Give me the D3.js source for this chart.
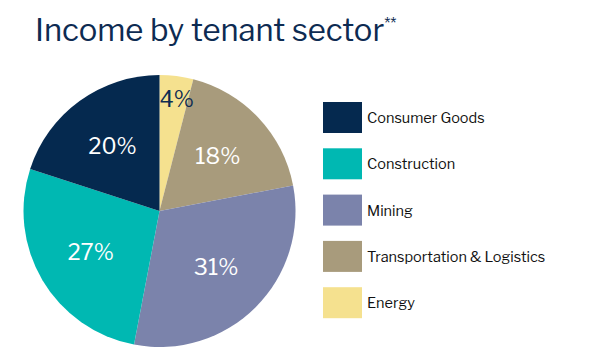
<!DOCTYPE html>
<html>
<head>
<meta charset="utf-8">
<script src="https://cdn.jsdelivr.net/npm/d3@7"></script>
<style>
  body { margin: 0; background: #fff; }
  text { font-family: "Libre Franklin", "Open Sans", Arial, sans-serif; }
</style>
</head>
<body>
<div id="chart"></div>
<script>
// data
var sectors = ["Consumer Goods", "Construction", "Mining", "Transportation & Logistics", "Energy"];
var shares = [20, 27, 31, 18, 4];
var colors = ["#05294f", "#00b8b2", "#7b83ab", "#a89b7c", "#f5e18f"];

// pie is drawn clockwise from 12 o'clock in this order
var pieOrder = ["Energy", "Transportation & Logistics", "Mining", "Construction", "Consumer Goods"];

var width = 591, height = 355;
var cx = 159.5, cy = 211, radius = 136;

var svg = d3.select("#chart").append("svg")
    .attr("width", width)
    .attr("height", height);

// title
var title = svg.append("text")
    .attr("x", 35)
    .attr("y", 41)
    .style("font-size", "31px")
    .style("fill", "#0d2b52");
title.append("tspan").text("Income by tenant sector");
title.append("tspan")
    .attr("dy", -12)
    .style("font-size", "16px")
    .text("**");

var color = d3.scaleOrdinal().domain(sectors).range(colors);

var data = pieOrder.map(function(s) {
  return { sector: s, value: shares[sectors.indexOf(s)] };
});

var pie = d3.pie()
    .sort(null)
    .value(function(d) { return d.value; });

var arc = d3.arc().innerRadius(0).outerRadius(radius);

var g = svg.append("g")
    .attr("transform", "translate(" + cx + "," + cy + ")");

var arcs = pie(data);

g.selectAll("path")
    .data(arcs)
  .enter().append("path")
    .attr("d", arc)
    .attr("fill", function(d) { return color(d.data.sector); });

// labels, the small slice gets pushed out near the rim
g.selectAll("text.pct")
    .data(arcs)
  .enter().append("text")
    .attr("class", "pct")
    .attr("transform", function(d) {
      var r = d.data.value < 10 ? 113 : 80;
      var c = d3.arc().innerRadius(r).outerRadius(r).centroid(d);
      return "translate(" + (d.data.value < 10 ? c[0] + 3 : c[0]) + "," + c[1] + ")";
    })
    .attr("text-anchor", "middle")
    .attr("dy", "0.36em")
    .style("font-size", "22px")
    .style("fill", function(d) { return d.data.value < 10 ? "#0d2b52" : "#fff"; })
    .text(function(d) { return d.data.value + "%"; });

// legend
var legend = svg.append("g")
    .attr("transform", "translate(323,102)");

var item = legend.selectAll("g")
    .data(sectors)
  .enter().append("g")
    .attr("transform", function(d, i) { return "translate(0," + (i * 46.3) + ")"; });

item.append("rect")
    .attr("width", 39)
    .attr("height", 31)
    .attr("fill", function(d) { return color(d); });

item.append("text")
    .attr("x", 44)
    .attr("y", 16)
    .attr("dy", "0.35em")
    .style("font-size", "14.5px")
    .style("fill", "#111")
    .text(function(d) { return d; });
</script>
</body>
</html>
